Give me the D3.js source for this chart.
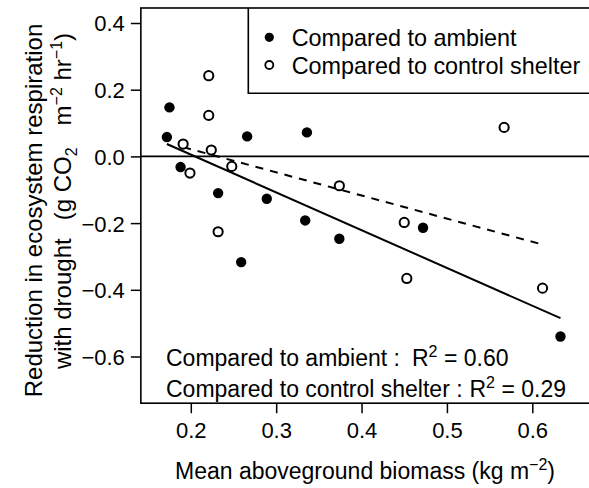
<!DOCTYPE html>
<html><head><meta charset="utf-8">
<script src="https://cdn.jsdelivr.net/npm/d3@7"></script>
<style>
body{margin:0;background:#fff}
svg{display:block}
text{font-family:'Liberation Sans',Arial,Helvetica,sans-serif;fill:#000}
</style>
</head><body>
<svg id="c" width="589" height="488"></svg>
<script>
// ---- data ----
const seriesNames = ["Compared to ambient", "Compared to control shelter"];
const ambientX = [0.175, 0.172, 0.266, 0.188, 0.232, 0.289, 0.259, 0.336, 0.334, 0.374, 0.472, 0.633];
const ambientY = [0.147, 0.058, 0.060, -0.032, -0.110, -0.127, -0.317, 0.072, -0.192, -0.247, -0.214, -0.540];
const shelterX = [0.221, 0.221, 0.191, 0.224, 0.248, 0.199, 0.232, 0.374, 0.450, 0.453, 0.567, 0.612];
const shelterY = [0.242, 0.123, 0.037, 0.019, -0.030, -0.050, -0.226, -0.088, -0.198, -0.366, 0.087, -0.395];
const r2Values = ["0.60", "0.29"];
const xTicks = [0.2, 0.3, 0.4, 0.5, 0.6];
const xTickLabels = ["0.2", "0.3", "0.4", "0.5", "0.6"];
const yTicks = [-0.6, -0.4, -0.2, 0.0, 0.2, 0.4];
const yTickLabels = ["\u22120.6", "\u22120.4", "\u22120.2", "0.0", "0.2", "0.4"];
const xLim = [0.1415, 0.70];
const yLim = [-0.74, 0.445];

// ---- scales ----
const svg = d3.select("#c");
const x = d3.scaleLinear().domain([0.2, 0.6]).range([190.8, 532.3]);
const y = d3.scaleLinear().domain([-0.6, 0.4]).range([356.5, 23]);

const FONT_TICK = 22, FONT_TXT = 23;

// frame
const fx0 = x(xLim[0]), fx1 = x(xLim[1]), fy0 = y(yLim[1]), fy1 = y(yLim[0]);
svg.append("rect").attr("x", fx0).attr("y", fy0)
  .attr("width", fx1 - fx0).attr("height", fy1 - fy0)
  .attr("fill", "none").attr("stroke", "#000").attr("stroke-width", 1.6);

// zero line
svg.append("line").attr("x1", fx0).attr("x2", fx1)
  .attr("y1", y(0)).attr("y2", y(0))
  .attr("stroke", "#000").attr("stroke-width", 1.6);

// axes
const yAxis = svg.append("g").attr("transform", `translate(${fx0},0)`)
  .call(d3.axisLeft(y).tickValues(yTicks).tickSize(10).tickPadding(6)
    .tickFormat((d, i) => yTickLabels[i]));
const xAxis = svg.append("g").attr("transform", `translate(0,${fy1})`)
  .call(d3.axisBottom(x).tickValues(xTicks).tickSize(10).tickPadding(9)
    .tickFormat((d, i) => xTickLabels[i]));
[yAxis, xAxis].forEach(g => {
  g.select(".domain").remove();
  g.selectAll(".tick line").attr("stroke", "#000").attr("stroke-width", 1.5);
  g.selectAll(".tick text").attr("font-size", FONT_TICK)
    .attr("font-family", "'Liberation Sans',Arial,sans-serif").attr("fill", "#000");
});
yAxis.selectAll(".tick text").attr("dy", "0.36em");

// regression
function fit(xs, ys) {
  const mx = d3.mean(xs), my = d3.mean(ys);
  let sxy = 0, sxx = 0;
  xs.forEach((v, i) => { sxy += (v - mx) * (ys[i] - my); sxx += (v - mx) * (v - mx); });
  const b = sxy / sxx, a = my - b * mx;
  const lo = d3.min(xs), hi = d3.max(xs);
  return [[lo, a + b * lo], [hi, a + b * hi]];
}
const lineGen = d3.line().x(d => x(d[0])).y(d => y(d[1]));
svg.append("path").attr("d", lineGen(fit(ambientX, ambientY)))
  .attr("fill", "none").attr("stroke", "#000").attr("stroke-width", 2);
svg.append("path").attr("d", lineGen(fit(shelterX, shelterY)))
  .attr("fill", "none").attr("stroke", "#000").attr("stroke-width", 2)
  .attr("stroke-dasharray", "8,7");

// points
svg.append("g").selectAll("circle").data(shelterX).join("circle")
  .attr("cx", d => x(d)).attr("cy", (d, i) => y(shelterY[i])).attr("r", 4.6)
  .attr("fill", "#fff").attr("stroke", "#000").attr("stroke-width", 2);
svg.append("g").selectAll("circle").data(ambientX).join("circle")
  .attr("cx", d => x(d)).attr("cy", (d, i) => y(ambientY[i])).attr("r", 5.2)
  .attr("fill", "#000");

// legend
const lg = svg.append("g");
lg.append("path").attr("d", `M${fx1 + 2},93.3 H248.3 V${fy0}`)
  .attr("fill", "none").attr("stroke", "#000").attr("stroke-width", 1.6);
[[37.3, 46], [65, 74]].forEach((p, i) => {
  lg.append("circle").attr("cx", 269.3).attr("cy", p[0]).attr("r", i === 0 ? 4.6 : 4)
    .attr("fill", i === 0 ? "#000" : "#fff").attr("stroke", "#000")
    .attr("stroke-width", i === 0 ? 0 : 1.8);
  lg.append("text").attr("x", 291.7).attr("y", p[1]).attr("font-size", 23.4).text(seriesNames[i]);
});

// R^2 annotations
[[366, 508.5], [397, 566]].forEach((p, i) => {
  svg.append("text").attr("x", 166).attr("y", p[0]).attr("font-size", FONT_TXT)
    .text(seriesNames[i] + " :");
  const t = svg.append("text").attr("x", p[1]).attr("y", p[0]).attr("font-size", FONT_TXT)
    .attr("text-anchor", "end");
  t.append("tspan").text("R");
  t.append("tspan").attr("dy", -9).attr("font-size", 16).text("2");
  t.append("tspan").attr("dy", 9).text(" = " + r2Values[i]);
});

// x title
const xt = svg.append("text").attr("x", 365).attr("y", 478.5).attr("font-size", FONT_TXT)
  .attr("text-anchor", "middle");
xt.append("tspan").text("Mean aboveground biomass (kg m");
xt.append("tspan").attr("dy", -9).attr("font-size", 16).text("\u22122");
xt.append("tspan").attr("dy", 9).text(")");

// y title
svg.append("text").attr("transform", "translate(42,210.5) rotate(-90)")
  .attr("font-size", 24).attr("text-anchor", "middle")
  .text("Reduction in ecosystem respiration");
const yt2 = svg.append("text").attr("transform", "translate(71,201) rotate(-90)")
  .attr("font-size", 24).attr("text-anchor", "middle");
yt2.append("tspan").text("with drought");
yt2.append("tspan").attr("dx", 18).text("(g CO");
yt2.append("tspan").attr("dy", 6).attr("font-size", 16).text("2");
yt2.append("tspan").attr("dy", -6).attr("dx", 22).text("m");
yt2.append("tspan").attr("dy", -9).attr("font-size", 16).text("\u22122");
yt2.append("tspan").attr("dy", 9).text("\u00a0hr");
yt2.append("tspan").attr("dy", -9).attr("font-size", 16).text("\u22121");
yt2.append("tspan").attr("dy", 9).text(")");
</script>
</body></html>
